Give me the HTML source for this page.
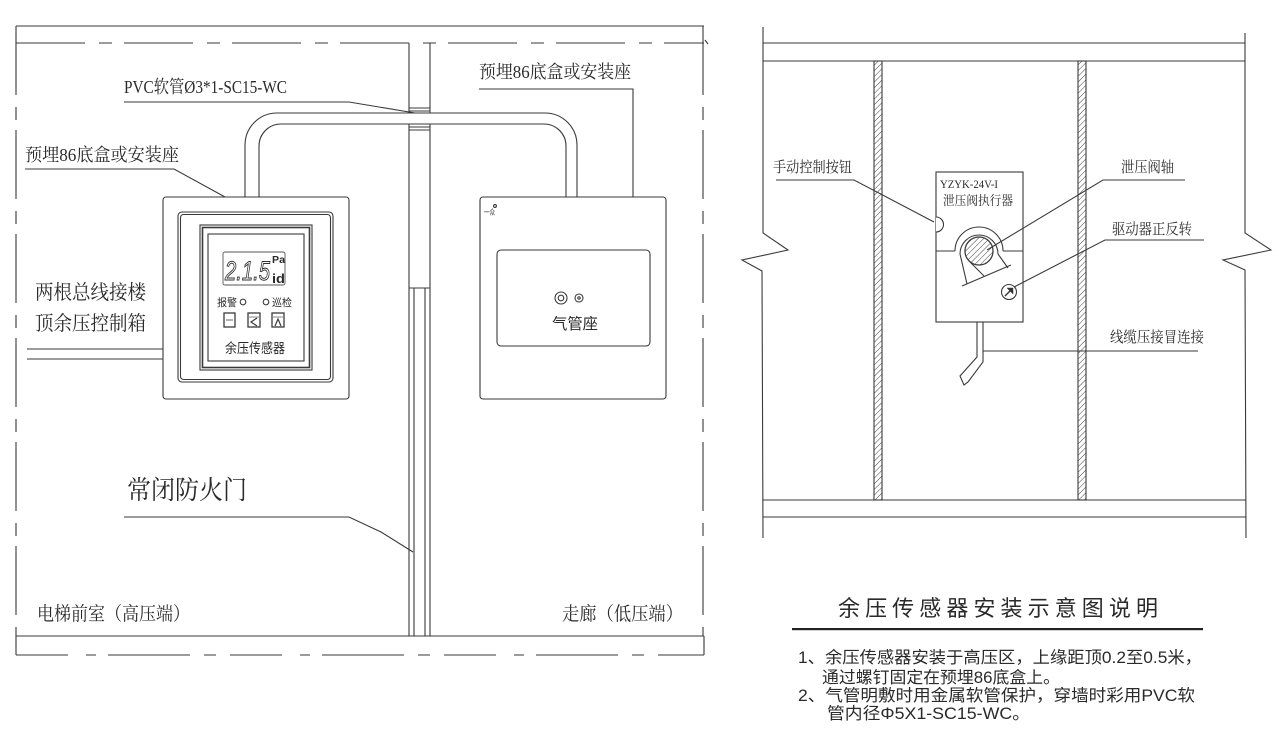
<!DOCTYPE html>
<html><head><meta charset="utf-8"><style>
html,body{margin:0;padding:0;background:#fff;}
svg{display:block;}
.c{font-family:"Liberation Serif","Noto Serif CJK SC",serif;fill:#2a2a2a;}
.s{font-family:"Liberation Sans","Noto Sans CJK SC",sans-serif;fill:#2a2a2a;}
</style></head><body>
<svg width="1282" height="739" viewBox="0 0 1282 739" xmlns="http://www.w3.org/2000/svg">
<defs>
<pattern id="h" patternUnits="userSpaceOnUse" width="4" height="4" patternTransform="rotate(45)">
<line x1="0" y1="0" x2="0" y2="4" stroke="#444" stroke-width="1"/>
</pattern>
</defs>
<g fill="none" stroke="#3a3a3a" stroke-width="1.1">
<!-- LEFT DIAGRAM frame -->
<line x1="16" y1="26" x2="704" y2="26"/>
<line x1="16" y1="43" x2="704" y2="43" stroke-dasharray="69 14 13 12"/>
<line x1="16" y1="26" x2="16" y2="636" stroke-dasharray="69 12 13 10"/>
<line x1="703" y1="26" x2="703" y2="636" stroke-dasharray="69 12 13 10"/>
<line x1="16" y1="636" x2="704" y2="636"/>
<line x1="16" y1="636" x2="16" y2="655"/>
<line x1="704" y1="636" x2="704" y2="655"/>
<line x1="16" y1="655" x2="704" y2="655" stroke-dasharray="52 18 10 12 82 14 12 14"/>
<line x1="705" y1="40" x2="708" y2="44"/>

<!-- wall / door -->
<line x1="409" y1="43" x2="409" y2="113"/>
<line x1="430" y1="43" x2="430" y2="113"/>
<line x1="409" y1="108" x2="430" y2="108"/>
<line x1="409" y1="111" x2="430" y2="111"/>
<line x1="409" y1="124" x2="409" y2="636"/>
<line x1="430" y1="124" x2="430" y2="636"/>
<line x1="409" y1="127" x2="430" y2="127"/>
<line x1="409" y1="130" x2="430" y2="130"/>
<line x1="409" y1="288" x2="430" y2="288"/>
<line x1="414" y1="288" x2="414" y2="636"/>
<line x1="425" y1="288" x2="425" y2="636"/>

<!-- pipe -->
<path d="M245,197 V145 A32,32 0 0 1 277,113 H545 A32,32 0 0 1 577,145 V197"/>
<path d="M259,197 V146 A22,22 0 0 1 281,124 H544 A22,22 0 0 1 566,146 V197"/>

<!-- leaders -->
<path d="M124,102 H349 L415,113"/>
<path d="M479,89 H633 V197"/>
<path d="M25,169 H174 L236,203"/>
<path d="M124,517 H349 L381,532 L413,552"/>
<line x1="27" y1="349" x2="163" y2="349"/>
<line x1="27" y1="359" x2="163" y2="359"/>

<!-- sensor box -->
<rect x="163" y="197" width="186" height="202" rx="3" fill="#fff"/>
<rect x="178" y="212" width="155" height="170" rx="4"/>
<rect x="180.5" y="214.5" width="150" height="165" rx="3"/>
<rect x="200" y="225" width="112" height="145"/>
<rect x="202.5" y="227.5" width="107" height="140" stroke-width="1.6"/>
<rect x="208" y="234" width="96" height="127"/>
<rect x="223" y="252" width="62" height="33" rx="2" stroke="#555" stroke-width="0.9"/>
<circle cx="243" cy="302" r="2.8"/>
<circle cx="266" cy="302" r="2.8"/>
<rect x="224" y="313" width="11" height="14" stroke-width="1.3"/>
<rect x="248" y="313" width="12" height="14" stroke-width="1.3"/>
<rect x="272" y="313" width="12" height="14" stroke-width="1.3"/>
<path d="M257,318 L251,322 L257,326" stroke-width="1.2"/>
<path d="M275,326 L278,319 L281,326" stroke-width="1.2"/>
<line x1="249" y1="317" x2="259" y2="317" stroke-width="0.6"/>
<line x1="273" y1="317" x2="283" y2="317" stroke-width="0.6"/>
<line x1="226" y1="320" x2="233" y2="320" stroke-width="0.8"/>

<!-- gas box -->
<rect x="480" y="197" width="186" height="202" rx="3" fill="#fff"/>
<rect x="497" y="250" width="153" height="96" rx="4"/>
<circle cx="561" cy="298" r="6"/>
<circle cx="561" cy="298" r="2.8"/>
<circle cx="579" cy="298" r="4"/>
<circle cx="579" cy="298" r="1.2"/>
<circle cx="495" cy="206" r="1.4"/>

<!-- RIGHT DIAGRAM -->
<path d="M763,27 V233 L788,250 L742,260 L762,271 L763,538"/>
<path d="M1245,33 V233 L1271,250 L1223,260 L1245,270 L1246,538"/>
<line x1="763" y1="43" x2="1245" y2="43"/>
<line x1="763" y1="61" x2="1245" y2="61"/>
<line x1="763" y1="500" x2="1246" y2="500"/>
<line x1="763" y1="517" x2="1246" y2="517"/>
<rect x="874" y="61" width="8" height="439" fill="url(#h)"/>
<rect x="1078" y="61" width="8" height="439" fill="url(#h)"/>

<!-- actuator -->
<rect x="936" y="172" width="87" height="150" fill="#fff"/>
<path d="M936,217 A7.5,7.5 0 0 1 936,232" fill="#fff"/>
<line x1="936" y1="251" x2="955" y2="251"/>
<line x1="1003" y1="251" x2="1023" y2="251"/>
<path d="M955,251 A24,24 0 0 1 1003,251"/>
<path d="M960,254 A19,19 0 1 1 998,254"/>
<line x1="960" y1="254" x2="967" y2="284"/>
<line x1="998" y1="254" x2="1008" y2="268"/>
<line x1="962" y1="286" x2="1011" y2="265"/>
<line x1="970" y1="262" x2="984" y2="276"/>
<circle cx="979" cy="251" r="14" fill="url(#h)" stroke-width="1.3"/>
<circle cx="1009" cy="292" r="7.5"/>
<line x1="1005" y1="296" x2="1012" y2="289" stroke-width="1.5"/>
<path d="M1007,288 L1013,288 L1013,294 Z" fill="#333" stroke-width="0.5"/>
<path d="M977,322 V357 L960,376 L964,385 L968,382 L983,362 V322"/>

<!-- right leaders -->
<path d="M776,180 H854 L934,222"/>
<path d="M1185,180 H1103 L987,250"/>
<path d="M1204,240 H1105 L1014,287"/>
<path d="M983,351 H1198"/>
</g>

<!-- text left -->
<text class="c" x="124" y="93" font-size="18" textLength="163" lengthAdjust="spacingAndGlyphs">PVC软管Ø3*1-SC15-WC</text>
<text class="c" x="479" y="78" font-size="18" textLength="152" lengthAdjust="spacingAndGlyphs">预埋86底盒或安装座</text>
<text class="c" x="25" y="161" font-size="18" textLength="154" lengthAdjust="spacingAndGlyphs">预埋86底盒或安装座</text>
<text class="c" x="35" y="299" font-size="20" textLength="111" lengthAdjust="spacingAndGlyphs">两根总线接楼</text>
<text class="c" x="35" y="330" font-size="20" textLength="111" lengthAdjust="spacingAndGlyphs">顶余压控制箱</text>
<text class="c" x="127" y="499" font-size="26" textLength="120" lengthAdjust="spacingAndGlyphs">常闭防火门</text>
<text class="c" x="37" y="620" font-size="19" textLength="153" lengthAdjust="spacingAndGlyphs">电梯前室（高压端）</text>
<text class="c" x="562" y="620" font-size="19" textLength="121" lengthAdjust="spacingAndGlyphs">走廊（低压端）</text>

<!-- sensor texts -->
<text x="225" y="280" font-family="Liberation Sans Narrow, Liberation Sans, sans-serif" font-size="27" font-style="italic" fill="#fff" stroke="#333" stroke-width="1" textLength="45" lengthAdjust="spacingAndGlyphs">2.1.5</text>
<text class="s" x="272" y="263" font-size="10" font-weight="bold" textLength="13" lengthAdjust="spacingAndGlyphs">Pa</text>
<text class="s" x="272" y="283" font-size="13" font-weight="bold" textLength="13" lengthAdjust="spacingAndGlyphs">id</text>
<text class="s" x="217" y="306" font-size="10.5" textLength="20" lengthAdjust="spacingAndGlyphs">报警</text>
<text class="s" x="272" y="306" font-size="10.5" textLength="20" lengthAdjust="spacingAndGlyphs">巡检</text>
<text class="s" x="225" y="353" font-size="13.5" textLength="60" lengthAdjust="spacingAndGlyphs">余压传感器</text>
<text class="s" x="552" y="329" font-size="15.5" textLength="46" lengthAdjust="spacingAndGlyphs">气管座</text>
<text class="s" x="484" y="215" font-size="8" textLength="11" lengthAdjust="spacingAndGlyphs">一众</text>

<!-- right texts -->
<text class="c" x="773" y="172" font-size="15" textLength="79" lengthAdjust="spacingAndGlyphs">手动控制按钮</text>
<text class="c" x="1121" y="172" font-size="15" textLength="53" lengthAdjust="spacingAndGlyphs">泄压阀轴</text>
<text class="c" x="1112" y="234" font-size="15" textLength="80" lengthAdjust="spacingAndGlyphs">驱动器正反转</text>
<text class="c" x="1110" y="342" font-size="15" textLength="94" lengthAdjust="spacingAndGlyphs">线缆压接冒连接</text>
<text class="c" x="940" y="188" font-size="12" textLength="58" lengthAdjust="spacingAndGlyphs">YZYK-24V-I</text>
<text class="c" x="943" y="205" font-size="13" textLength="70" lengthAdjust="spacingAndGlyphs">泄压阀执行器</text>

<!-- notes -->
<text class="s" x="838" y="616" font-size="22" textLength="320" lengthAdjust="spacing" fill="#333">余压传感器安装示意图说明</text>
<rect x="792" y="628" width="411" height="2.2" fill="#222"/>
<text class="s" x="798" y="663" font-size="16.5" textLength="404" lengthAdjust="spacingAndGlyphs">1、余压传感器安装于高压区，上缘距顶0.2至0.5米，</text>
<text class="s" x="822" y="683" font-size="16.5" textLength="238" lengthAdjust="spacingAndGlyphs">通过螺钉固定在预埋86底盒上。</text>
<text class="s" x="798" y="701" font-size="16.5" textLength="397" lengthAdjust="spacingAndGlyphs">2、气管明敷时用金属软管保护，穿墙时彩用PVC软</text>
<text class="s" x="827" y="719" font-size="16.5" textLength="203" lengthAdjust="spacingAndGlyphs">管内径Φ5X1-SC15-WC。</text>
</svg>
</body></html>
